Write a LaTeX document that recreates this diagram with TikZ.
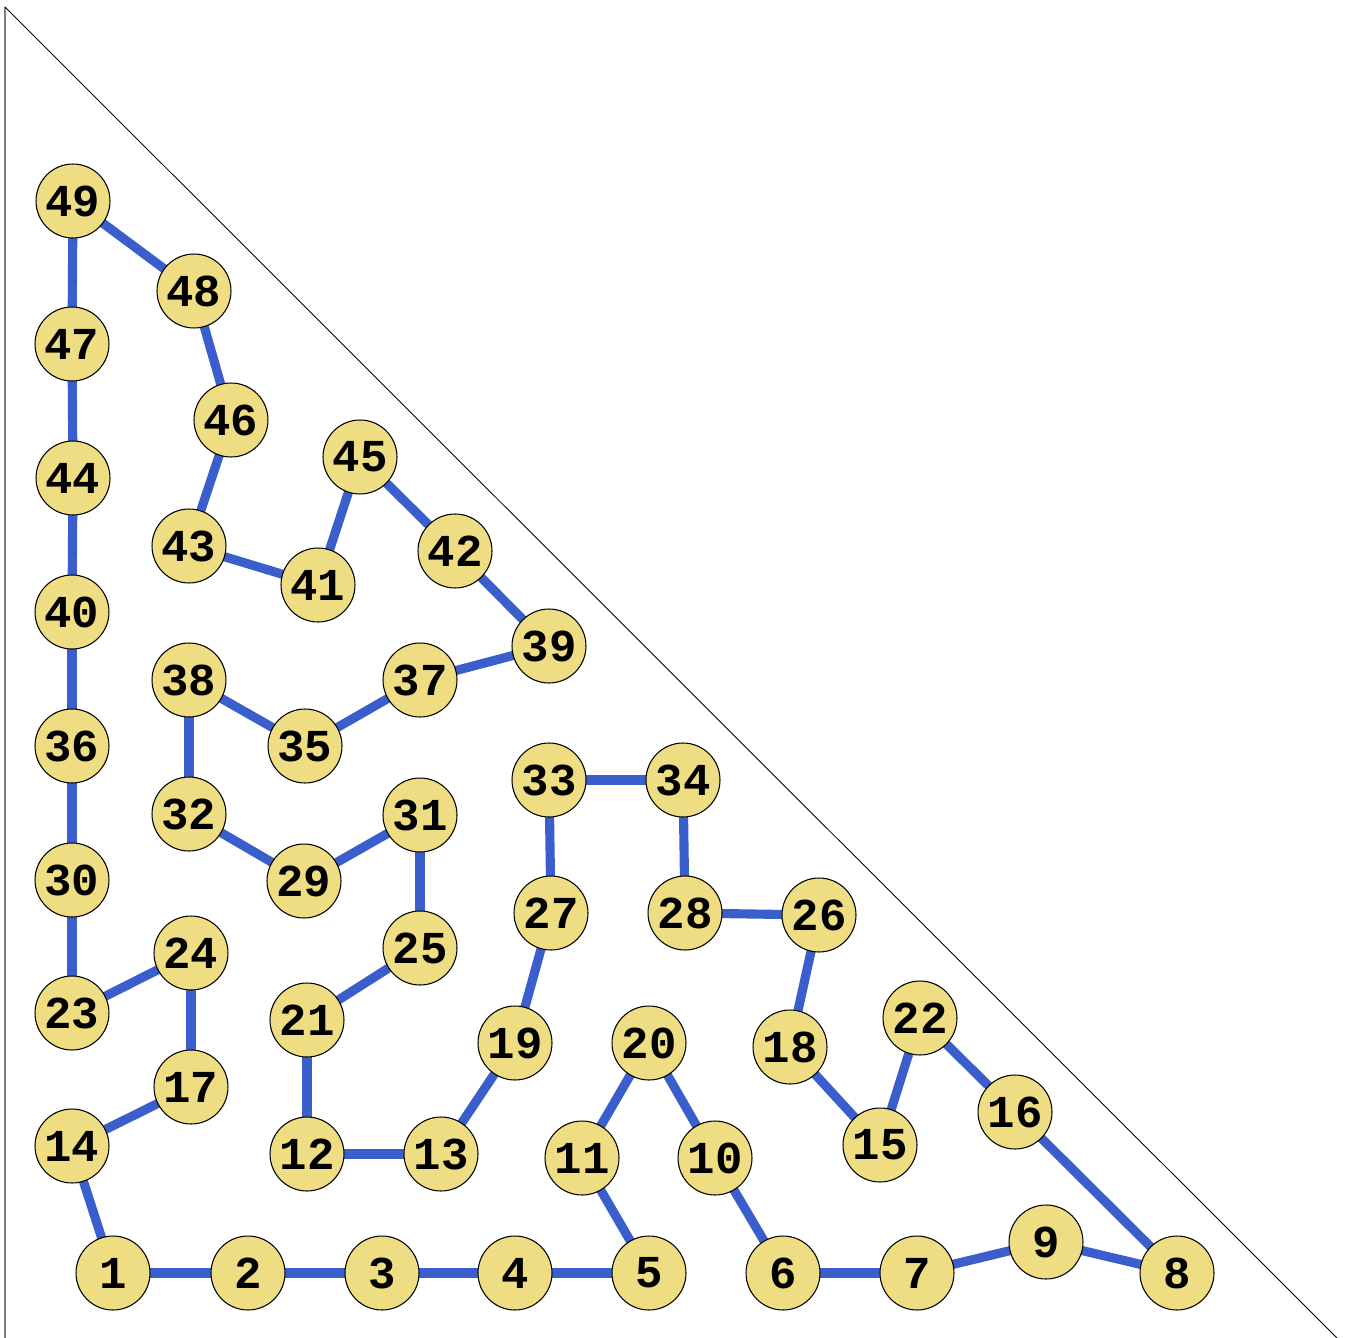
\documentclass[tikz,border=0pt]{standalone}
\usepackage{fontspec}
\setmonofont{Liberation Mono}
\usetikzlibrary{backgrounds}
\definecolor{nodefill}{RGB}{238,221,130}
\definecolor{edgeblue}{RGB}{58,95,205}
\begin{document}
\begin{tikzpicture}[x=0.02cm,y=-0.02cm,
  vtx/.style={circle,draw=black,line width=0.6pt,fill=nodefill,minimum size=1.48cm,inner sep=0pt,
    font=\fontsize{26}{26}\selectfont\ttfamily\bfseries},
  edge/.style={draw=edgeblue,line width=5.2pt}]
\useasboundingbox (0,0) rectangle (1345,1338);
\draw[gray,line width=1.2pt] (5,7) -- (5,1338);
\draw[black,line width=0.5pt] (5,7) -- (1337,1338);
\foreach \n/\x/\y in {1/113/1273,2/248/1273,3/382/1273,4/515/1273,5/649/1273,6/783/1273,7/917/1273,8/1177/1273,
  9/1046/1242,10/715/1158,11/582/1158,12/307/1154,13/441/1154,14/72/1146,15/880/1145,16/1015/1112,
  17/191/1087,18/790/1047,19/515/1043,20/649/1043,21/307/1020,22/920/1018,23/72/1013,24/191/953,
  25/420/948,26/819/915,27/551/913,28/685/913,29/304/881,30/72/880,31/420/815,32/189/814,
  33/549/780,34/683/780,35/305/746,36/72/746,37/420/680,38/189/680,39/549/646,40/72/612,
  41/318/585,42/455/551,43/189/546,44/73/478,45/360/457,46/231/420,47/72/344,48/194/291,49/73/201}
  {\node[vtx] (n\n) at (\x,\y) {\n};}
\begin{pgfonlayer}{background}
\foreach \a/\b in {1/2,2/3,3/4,4/5,5/11,11/20,20/10,10/6,6/7,7/9,9/8,8/16,16/22,22/15,15/18,18/26,
  26/28,28/34,34/33,33/27,27/19,19/13,13/12,12/21,21/25,25/31,31/29,29/32,32/38,38/35,35/37,37/39,
  39/42,42/45,45/41,41/43,43/46,46/48,48/49,49/47,47/44,44/40,40/36,36/30,30/23,23/24,24/17,17/14,14/1}
  {\path[edge] (n\a.center) -- (n\b.center);}
\end{pgfonlayer}
\end{tikzpicture}
\end{document}
